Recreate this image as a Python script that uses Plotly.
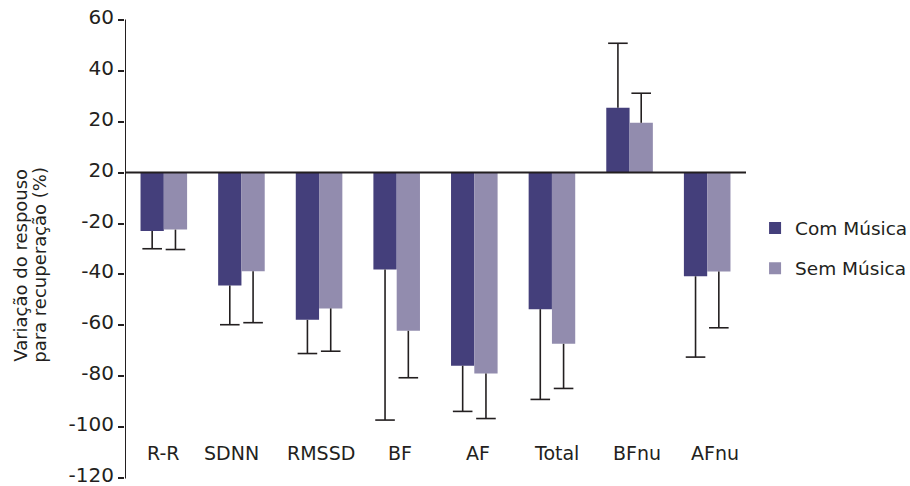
import plotly.graph_objects as go

# HRV indices: % change from rest to recovery, with and without music
categories = ["R-R", "SDNN", "RMSSD", "BF", "AF", "Total", "BFnu", "AFnu"]
com_musica = [-22.9, -44.3, -57.8, -38.0, -75.8, -53.6, 25.4, -40.7]
sem_musica = [-22.4, -38.7, -53.3, -62.1, -78.8, -67.2, 19.5, -38.8]
# error-bar end points (mean ± SD, drawn away from zero only)
com_err_end = [-29.9, -59.7, -71.0, -97.1, -93.7, -89.0, 50.7, -72.4]
sem_err_end = [-30.2, -58.9, -70.1, -80.5, -96.5, -84.7, 31.1, -60.9]

tick_vals = [60, 40, 20, 0, -20, -40, -60, -80, -100, -120]
tick_text = ["60", "40", "20", "20", "-20", "-40", "-60", "-80", "-100", "-120"]

COM_COLOR = "#443f7b"
SEM_COLOR = "#928cae"
INK = "#231f20"
FONT = "DejaVu Sans"

BAR_W = 0.30
OFFSET = 0.15
Y_MIN, Y_MAX = -120, 60
# small horizontal nudges (px) of the category labels
LABEL_SHIFT = [0, -10, 2, 3, 4, 5, 7, 8]

fig = go.Figure()


def add_series(name, values, err_end, color, shift):
    xs = [i + shift for i in range(len(values))]
    up = [max(e - v, 0) if v >= 0 else 0 for v, e in zip(values, err_end)]
    down = [max(v - e, 0) if v < 0 else 0 for v, e in zip(values, err_end)]
    fig.add_trace(go.Bar(
        x=xs, y=values, width=BAR_W, name=name,
        marker=dict(color=color, line=dict(width=0)),
        error_y=dict(type="data", symmetric=False, array=up, arrayminus=down,
                     color=INK, thickness=1.6, width=0),
        legendgroup=name, hoverinfo="skip",
    ))
    # caps at the outer end of each error bar
    fig.add_trace(go.Scatter(
        x=xs, y=err_end, mode="markers",
        marker=dict(symbol="line-ew", size=14, line=dict(width=1.6, color=INK)),
        showlegend=False, hoverinfo="skip",
    ))


add_series("Com Música", com_musica, com_err_end, COM_COLOR, -OFFSET)
add_series("Sem Música", sem_musica, sem_err_end, SEM_COLOR, OFFSET)

# vertical axis line, spanning exactly the labelled range
fig.add_shape(type="line", xref="x", yref="y", x0=-0.5, x1=-0.5,
              y0=Y_MIN, y1=Y_MAX, line=dict(color=INK, width=2), layer="above")
# baseline at zero
fig.add_shape(type="line", xref="x", yref="y", x0=-0.5, x1=7.5, y0=0, y1=0,
              line=dict(color=INK, width=2), layer="above")

# category labels sit inside the plot, near the bottom
for i, c in enumerate(categories):
    fig.add_annotation(x=i, y=-110, xref="x", yref="y", text=c, showarrow=False,
                       xshift=LABEL_SHIFT[i],
                       font=dict(family=FONT, size=19, color=INK),
                       xanchor="center", yanchor="middle")

# y-axis title, two lines set tightly
for line, xpos in (("Variação do respouso", -0.1675), ("para recuperação (%)", -0.1369)):
    fig.add_annotation(x=xpos, y=0.466, xref="paper", yref="paper",
                       text=line, showarrow=False, textangle=-90,
                       font=dict(family=FONT, size=18, color=INK),
                       xanchor="center", yanchor="middle")

fig.update_layout(
    width=910, height=486,
    margin=dict(l=125, r=164, t=17, b=5, autoexpand=False),
    paper_bgcolor="white", plot_bgcolor="white",
    font=dict(family=FONT, size=19, color=INK),
    barmode="overlay",
    showlegend=True,
    legend=dict(x=1.0146, y=0.585, xanchor="left", yanchor="top",
                font=dict(family=FONT, size=18.5, color=INK),
                tracegroupgap=13, traceorder="grouped",
                bgcolor="rgba(0,0,0,0)", itemclick=False),
    xaxis=dict(range=[-0.5, 7.5], showticklabels=False, showgrid=False,
               zeroline=False, showline=False, ticks=""),
    yaxis=dict(range=[Y_MIN - 1, Y_MAX + 1], tickvals=tick_vals, ticktext=tick_text,
               showgrid=False, zeroline=False, showline=False,
               ticks="outside", ticklen=6, tickwidth=2, tickcolor=INK,
               ticklabeloverflow="allow", ticklabelshift=-3,
               tickfont=dict(family=FONT, size=20, color=INK)),
)

fig.write_html("out.html")
